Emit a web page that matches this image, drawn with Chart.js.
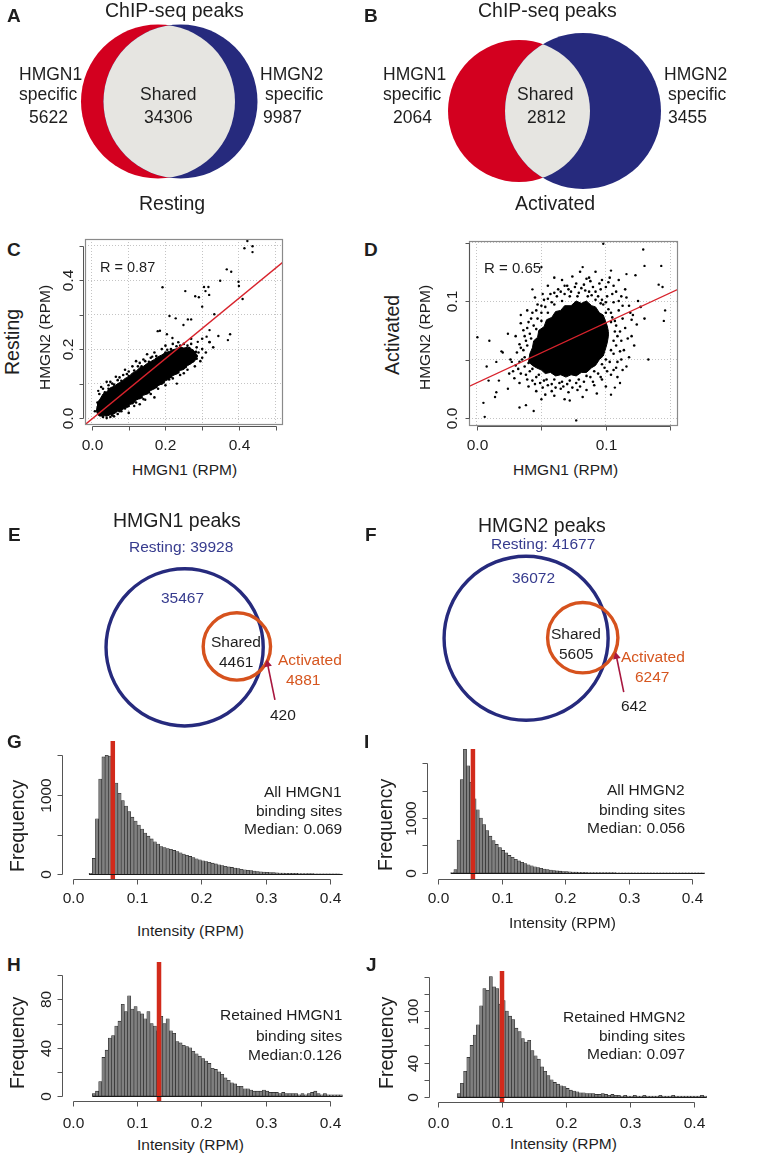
<!DOCTYPE html>
<html>
<head>
<meta charset="utf-8">
<script src="https://cdn.jsdelivr.net/npm/chart.js@4.4.1/dist/chart.umd.min.js"></script>
<style>
  body { margin: 0; background: #fff; }
  #page { position: relative; width: 764px; height: 1154px; overflow: hidden; font-family: 'Liberation Sans', Arial, sans-serif; color: #1e1e1e; }
  #page canvas { position: absolute; }
  .t { position: absolute; white-space: nowrap; line-height: 1; }
</style>
</head>
<body>
<div id="page"></div>
<script>
// ---------- data ----------
// A / B: overlap of HMGN1 and HMGN2 ChIP-seq peaks
const overlapParts = ['HMGN1 specific', 'Shared', 'HMGN2 specific'];
const restingOverlap = [5622, 34306, 9987];
const activatedOverlap = [2064, 2812, 3455];

// C / D: correlation of peak intensities
const corrR = [0.87, 0.65];
// dense core of the resting cloud (lower / upper edge) and single dots
const cCoreLow = [[0.012,0.02],[0.016,0.01],[0.02,0.006],[0.03,0.008],[0.04,0.005],[0.05,0.01],[0.06,0.012],[0.07,0.02],[0.08,0.022],[0.09,0.03],[0.1,0.038],[0.11,0.042],[0.12,0.052],[0.13,0.057],[0.14,0.066],[0.15,0.07],[0.16,0.08],[0.17,0.085],[0.18,0.094],[0.19,0.099],[0.2,0.108],[0.21,0.113],[0.22,0.123],[0.23,0.128],[0.24,0.138],[0.25,0.141],[0.26,0.152],[0.27,0.158],[0.28,0.166],[0.288,0.18]];
const cCoreHigh = [[0.012,0.02],[0.014,0.035],[0.015,0.045],[0.022,0.055],[0.03,0.07],[0.04,0.076],[0.05,0.088],[0.06,0.092],[0.07,0.1],[0.08,0.105],[0.09,0.115],[0.1,0.12],[0.11,0.131],[0.12,0.136],[0.13,0.146],[0.14,0.15],[0.15,0.158],[0.16,0.164],[0.17,0.17],[0.18,0.178],[0.19,0.183],[0.2,0.19],[0.21,0.193],[0.22,0.198],[0.23,0.201],[0.24,0.206],[0.25,0.203],[0.26,0.205],[0.275,0.198],[0.288,0.18]];
const cDots = [[0.02,0.07],[0.03,0.085],[0.045,0.095],[0.05,0.105],[0.07,0.11],[0.085,0.125],[0.1,0.135],[0.11,0.15],[0.13,0.16],[0.14,0.17],[0.16,0.175],[0.17,0.19],[0.19,0.2],[0.2,0.21],[0.22,0.215],[0.235,0.22],[0.25,0.215],[0.27,0.215],[0.285,0.205],[0.29,0.19],[0.3,0.2],[0.31,0.19],[0.3,0.175],[0.295,0.165],[0.28,0.15],[0.26,0.14],[0.24,0.125],[0.22,0.115],[0.2,0.095],[0.18,0.085],[0.16,0.07],[0.14,0.055],[0.12,0.045],[0.1,0.035],[0.08,0.02],[0.06,0.005],[0.04,0.0],[0.1,0.015],[0.13,0.04],[0.17,0.06],[0.25,0.13],[0.3,0.23],[0.32,0.22],[0.33,0.205],[0.27,0.23],[0.15,0.185],[0.12,0.165],[0.09,0.14],[0.065,0.12],[0.04,0.105],[0.025,0.09],[0.015,0.045],[0.008,0.02],
  [0.055,0.1],[0.075,0.118],[0.095,0.128],[0.125,0.15],[0.145,0.165],[0.175,0.18],[0.205,0.198],[0.23,0.208],[0.26,0.21],[0.28,0.19],[0.275,0.165],[0.255,0.148],[0.23,0.13],[0.21,0.112],[0.19,0.1],[0.17,0.088],[0.15,0.072],[0.13,0.058],[0.11,0.043],[0.09,0.028],[0.07,0.012],[0.05,0.003],[0.035,0.015],[0.025,0.008],
  [0.018,0.03],[0.022,0.05],[0.035,0.075],[0.045,0.085],[0.06,0.097],[0.08,0.108],[0.1,0.122],[0.115,0.138],[0.135,0.15],[0.155,0.163],[0.175,0.172],[0.2,0.19],[0.215,0.2],[0.24,0.21],[0.265,0.203],[0.283,0.192],[0.285,0.172],[0.265,0.158],[0.25,0.145],[0.235,0.132],[0.215,0.12],[0.195,0.103],[0.175,0.09],[0.155,0.075],[0.135,0.06],[0.115,0.048],[0.095,0.033],[0.075,0.02],[0.055,0.008],[0.03,0.003]];
const cOutliers = [[0.423,0.513],[0.415,0.492],[0.437,0.498],[0.437,0.481],[0.367,0.431],[0.379,0.424],[0.349,0.398],[0.399,0.395],[0.4,0.383],[0.41,0.345],[0.192,0.379],[0.254,0.368],[0.305,0.38],[0.317,0.38],[0.309,0.368],[0.319,0.357],[0.281,0.353],[0.291,0.35],[0.3,0.323],[0.333,0.301],[0.211,0.296],[0.261,0.286],[0.27,0.286],[0.228,0.289],[0.249,0.27],[0.185,0.253],[0.179,0.252],[0.32,0.255],[0.376,0.243],[0.37,0.226],[0.344,0.238],[0.312,0.236],[0.288,0.221],[0.32,0.221],[0.231,0.1],[0.204,0.243],[0.219,0.232],[0.164,0.178],[0.017,0.079],[0.115,0.035],[0.145,0.053]];
const cFit = [[-0.02,-0.02],[0.52,0.452]];

const dCoreLow = [[0.04,0.048],[0.043,0.045],[0.046,0.043],[0.05,0.041],[0.053,0.038],[0.057,0.039],[0.061,0.036],[0.065,0.037],[0.069,0.035],[0.073,0.037],[0.077,0.036],[0.081,0.039],[0.085,0.039],[0.089,0.043],[0.092,0.045],[0.095,0.05],[0.098,0.053],[0.1,0.06],[0.101,0.064],[0.102,0.07],[0.102,0.074]];
const dCoreHigh = [[0.04,0.048],[0.041,0.055],[0.043,0.06],[0.044,0.066],[0.047,0.069],[0.048,0.075],[0.052,0.078],[0.054,0.084],[0.058,0.086],[0.061,0.091],[0.065,0.092],[0.068,0.096],[0.073,0.096],[0.077,0.1],[0.081,0.098],[0.085,0.1],[0.089,0.096],[0.092,0.095],[0.095,0.09],[0.098,0.088],[0.1,0.082],[0.101,0.079],[0.102,0.074]];
const dDots = [[0.035,0.05],[0.036,0.058],[0.038,0.066],[0.041,0.072],[0.044,0.079],[0.047,0.085],[0.05,0.09],[0.053,0.095],[0.058,0.099],[0.062,0.104],[0.068,0.106],[0.073,0.108],[0.079,0.107],[0.084,0.109],[0.089,0.105],[0.094,0.104],[0.098,0.097],[0.102,0.093],[0.105,0.086],[0.108,0.079],[0.109,0.07],[0.108,0.062],[0.106,0.055],[0.103,0.048],[0.099,0.043],[0.094,0.038],[0.088,0.035],[0.083,0.031],[0.077,0.03],[0.07,0.029],[0.064,0.03],[0.058,0.029],[0.052,0.032],[0.046,0.035],[0.041,0.04],[0.037,0.044],
  [0.03,0.045],[0.031,0.056],[0.033,0.063],[0.036,0.075],[0.04,0.082],[0.043,0.09],[0.047,0.097],[0.052,0.101],[0.057,0.106],[0.063,0.11],[0.07,0.113],[0.077,0.115],[0.083,0.114],[0.09,0.112],[0.096,0.11],[0.101,0.104],[0.106,0.099],[0.11,0.092],[0.113,0.085],[0.115,0.077],[0.117,0.068],[0.114,0.058],[0.112,0.05],[0.108,0.043],[0.104,0.037],[0.097,0.033],[0.091,0.028],[0.085,0.024],[0.078,0.024],[0.071,0.022],[0.065,0.025],[0.058,0.023],[0.051,0.026],[0.045,0.029],[0.039,0.033],[0.034,0.038],[0.028,0.04],
  [0.025,0.038],[0.026,0.05],[0.03,0.07],[0.034,0.081],[0.039,0.092],[0.045,0.103],[0.055,0.113],[0.066,0.118],[0.074,0.121],[0.087,0.12],[0.097,0.118],[0.106,0.113],[0.112,0.104],[0.118,0.096],[0.121,0.088],[0.124,0.08],[0.12,0.07],[0.122,0.062],[0.118,0.052],[0.113,0.041],[0.109,0.035],[0.1,0.027],[0.093,0.021],[0.082,0.018],[0.068,0.016],[0.06,0.019],[0.053,0.02],[0.046,0.023],[0.04,0.027],[0.033,0.03],[0.029,0.034],[0.092,0.125],[0.103,0.12],[0.115,0.11],[0.127,0.095],[0.13,0.085],[0.125,0.1],[0.11,0.118],[0.08,0.125],[0.06,0.12],
  [0.037,0.052],[0.039,0.062],[0.042,0.068],[0.046,0.076],[0.05,0.083],[0.055,0.09],[0.06,0.097],[0.066,0.1],[0.072,0.104],[0.078,0.104],[0.086,0.104],[0.092,0.101],[0.096,0.098],[0.1,0.09],[0.104,0.082],[0.107,0.074],[0.106,0.066],[0.104,0.058],[0.1,0.05],[0.097,0.046],[0.091,0.04],[0.085,0.036],[0.079,0.033],[0.072,0.032],[0.066,0.031],[0.06,0.033],[0.054,0.033],[0.048,0.037],[0.043,0.042],[0.04,0.047],
  [0.033,0.048],[0.034,0.06],[0.037,0.07],[0.039,0.077],[0.042,0.085],[0.046,0.092],[0.05,0.096],[0.055,0.102],[0.06,0.107],[0.065,0.108],[0.071,0.11],[0.076,0.112],[0.081,0.111],[0.087,0.108],[0.092,0.108],[0.097,0.101],[0.1,0.099],[0.104,0.09],[0.107,0.083],[0.111,0.074],[0.112,0.066],[0.111,0.057],[0.109,0.048],[0.106,0.041],[0.101,0.04],[0.096,0.035],[0.09,0.031],[0.08,0.027],[0.074,0.026],[0.067,0.027],[0.061,0.026],[0.055,0.028],[0.049,0.03],[0.043,0.032],[0.038,0.037],[0.032,0.042],
  [0.095,0.115],[0.1,0.112],[0.105,0.106],[0.11,0.1],[0.113,0.096],[0.119,0.09],[0.116,0.103],[0.108,0.108],[0.12,0.084],[0.088,0.117],[0.085,0.119],[0.102,0.116]];
const dOutliers = [[0.098,0.149],[0.129,0.144],[0.13,0.13],[0.143,0.13],[0.141,0.114],[0.144,0.112],[0.146,0.092],[0.145,0.083],[0.133,0.05],[0.082,0.129],[0.104,0.126],[0.116,0.123],[0.123,0.122],[0.043,0.11],[0.051,0.106],[0.068,0.113],[0.034,0.088],[0.024,0.072],[0.0003,0.069],[0.0096,0.066],[0.015,0.048],[0.0075,0.044],[0.009,0.032],[0.015,0.022],[0.014,0.018],[0.005,0.013],[0.006,0.001],[0.033,0.009],[0.038,0.011],[0.044,0.006],[0.05,0.016],[0.072,0.015],[0.077,-0.002],[0.104,0.02],[0.107,0.026],[0.111,0.03],[0.116,0.044],[0.027,0.048],[0.02,0.056],[0.019,0.057],[0.017,0.032],[0.024,0.025],[0.05,0.129]];
const dFit = [[-0.0062,0.027],[0.156,0.11]];

const rpmTicksC = [0, 0.1, 0.2, 0.3, 0.4, 0.5];
const rpmLabelsC = ['0.0', '', '0.2', '', '0.4', ''];
const rpmTicksD = [0, 0.05, 0.1, 0.15];
const rpmLabelsD = ['0.0', '', '0.1', ''];

// E / F: resting vs activated peaks
const peakParts = ['Resting', 'Resting only', 'Shared', 'Activated', 'Activated only'];
const hmgn1Peaks = [39928, 35467, 4461, 4881, 420];
const hmgn2Peaks = [41677, 36072, 5605, 6247, 642];

// G / I / H / J: intensity histograms (bin width 0.005 RPM)
const binWidth = 0.005;
const allHmgn1Start = 0.025;
const allHmgn1Counts = [10,200,700,1200,1480,1500,1490,1300,1150,1020,930,860,790,720,670,620,570,520,480,445,410,380,350,
  335,325,315,300,285,270,255,240,225,210,195,182,
  170,160,150,140,130,120,110,100,92,86,78,70,62,56,50,45,40,35,31,28,25,22,20,18,16,14,13,12,11,10,9,8,8,7,7,6,6,5,5,5,4,4,4,3];
const allHmgn2Start = 0.02;
const allHmgn2Counts = [5,60,600,1700,2250,1950,1650,1350,1150,1000,880,770,670,590,520,460,410,365,320,285,250,220,195,170,150,
  130,112,97,84,72,62,53,45,38,32,27,23,20,17,15,13,11,10,9,8,7,7,6,6,5,5,5,4,4,4,4,3,3,3,3,3,3,2,2,2,2,2,2,2,2,2,2,2,2,2,2,2,2,2,2];
const retHmgn1Start = 0.03;
const retHmgn1Counts = [2,4,12,32,38,48,50,58,62,76,70,83,72,74,70,68,64,70,60,58,54,66,60,64,54,52,45,44,42,41,40,37,35,33,31,
  29,27,23,22,20,18,15,13,11,10,8,8,6,6,5,4,4,4,5,4,3,3,3,2,3,2,2,2,2,1,2,1,2,3,4,2,1,2,1,1,1,1,1];
const retHmgn2Start = 0.03;
const retHmgn2Counts = [4,16,30,46,60,72,84,106,126,124,140,128,126,108,112,100,94,90,80,76,68,64,66,54,48,44,35,30,25,20,
  17,15,13,12,10,8,7,6,5,5,4,4,4,3,3,4,3,2,3,2,2,1,2,1,1,2,1,1,2,1,1,1,1,2,1,1,1,2,1,1,1,1,1,1,1,1,2,1];
const medianText = ['Median: 0.069', 'Median: 0.056', 'Median:0.126', 'Median: 0.097'];
const medianLine = [0.062, 0.055, 0.134, 0.100];
const intensityTicks = [0, 0.1, 0.2, 0.3, 0.4];
const intensityLabels = ['0.0', '0.1', '0.2', '0.3', '0.4'];
const freqTicksG = [0, 500, 1000, 1500];
const freqLabelsG = ['0', '', '1000', ''];
const freqTicksI = [0, 500, 1000, 1500, 2000];
const freqLabelsI = ['0', '', '1000', '', ''];
const freqTicksH = [0, 20, 40, 60, 80, 100];
const freqLabelsH = ['0', '', '40', '', '80', ''];
const freqTicksJ = [0, 20, 40, 60, 80, 100, 120, 140];
const freqLabelsJ = ['0', '', '40', '', '', '100', '', ''];

// ---------- helpers ----------
const FONT = "'Liberation Sans', Arial, sans-serif";
const RED = '#d3001f', NAVY = '#262a7d', BLUE_TXT = '#363b8e', ORANGE = '#d6521d', ORANGE_TXT = '#d6561f';
const page = document.getElementById('page');
const pts = arr => arr.map(([x, y]) => ({ x, y }));

// text centred on (x, y); right-aligned ends at x; rotated reads bottom to top
function text(str, x, y, o = {}) {
    const d = document.createElement('div');
    d.className = 't';
    d.textContent = str;
    d.style.fontSize = (o.size || 15.5) + 'px';
    if (o.bold) d.style.fontWeight = 'bold';
    d.style.color = o.color || '#1e1e1e';
    page.appendChild(d);
    const w = d.offsetWidth, h = d.offsetHeight;
    if (o.rotate) {
        d.style.transformOrigin = '0 0';
        d.style.transform = 'rotate(-90deg)';
        d.style.left = Math.round(x - h / 2) + 'px';
        d.style.top = Math.round(y + w / 2) + 'px';
    } else {
        d.style.left = Math.round(o.align === 'right' ? x - w : x - w / 2) + 'px';
        d.style.top = Math.round(y - h / 2) + 'px';
    }
}

function makeCanvas(box) {
    const c = document.createElement('canvas');
    c.width = box[2]; c.height = box[3];
    c.style.left = box[0] + 'px'; c.style.top = box[1] + 'px';
    c.style.width = box[2] + 'px'; c.style.height = box[3] + 'px';
    page.appendChild(c);
    return c;
}

// padding so the chart area lands on area = [left, top, right, bottom] (page px)
const padFor = (box, area) => ({
    left: area[0] - box[0], top: area[1] - box[1],
    right: box[0] + box[2] - area[2], bottom: box[1] + box[3] - area[3]
});
const flat = s => { if (s.isHorizontal()) s.height = 0; else s.width = 0; };

// R-style axes: detached axis lines, outward ticks, rotated y labels
function rAxes(o) {
    return {
        id: 'rAxes',
        afterDraw(chart) {
            const { ctx, chartArea: a } = chart;
            ctx.save();
            if (o.box) {
                ctx.strokeStyle = o.box; ctx.lineWidth = 1.2;
                ctx.strokeRect(a.left + 0.5, a.top + 0.5, a.right - a.left - 1, a.bottom - a.top - 1);
            }
            if (o.baseline) {
                const y0 = Math.round(chart.scales.y.getPixelForValue(0)) + 0.5;
                ctx.strokeStyle = '#1a1a1a'; ctx.lineWidth = 1;
                ctx.beginPath();
                ctx.moveTo(chart.scales.x.getPixelForValue(o.baseline[0]), y0);
                ctx.lineTo(chart.scales.x.getPixelForValue(o.baseline[1]), y0);
                ctx.stroke();
            }
            ctx.strokeStyle = o.color || '#555';
            ctx.fillStyle = '#1e1e1e';
            ctx.lineWidth = 1;
            ctx.font = (o.size || 15.5) + 'px ' + FONT;
            ctx.textAlign = 'center';
            ctx.textBaseline = 'middle';
            ['x', 'y'].forEach(k => {
                const s = o[k];
                if (!s) return;
                const sc = chart.scales[k];
                const ps = s.ticks.map(v => Math.round(sc.getPixelForValue(v)) + 0.5);
                ctx.beginPath();
                if (k === 'x') {
                    const y0 = Math.round(a.bottom + s.pos) + 0.5;
                    ctx.moveTo(ps[0], y0); ctx.lineTo(ps[ps.length - 1], y0);
                    ps.forEach(p => { ctx.moveTo(p, y0); ctx.lineTo(p, y0 + s.len); });
                    ctx.stroke();
                    s.labels.forEach((t, i) => { if (t) ctx.fillText(t, ps[i], y0 + s.gap); });
                } else {
                    const x0 = Math.round(a.left - s.pos) + 0.5;
                    ctx.moveTo(x0, ps[0]); ctx.lineTo(x0, ps[ps.length - 1]);
                    ps.forEach(p => { ctx.moveTo(x0, p); ctx.lineTo(x0 - s.len, p); });
                    ctx.stroke();
                    s.labels.forEach((t, i) => {
                        if (!t) return;
                        ctx.save();
                        ctx.translate(x0 - s.gap, ps[i]);
                        ctx.rotate(-Math.PI / 2);
                        ctx.fillText(t, 0, 0);
                        ctx.restore();
                    });
                }
            });
            ctx.restore();
        }
    };
}

// circles of the Venn panels, placed through the chart scales (page px units)
function vennShapes(circles, lens) {
    return {
        id: 'venn',
        beforeDatasetsDraw(chart) {
            const { ctx, scales: { x, y } } = chart;
            const geo = c => ({
                px: x.getPixelForValue(c.c[0]), py: y.getPixelForValue(c.c[1]),
                pr: x.getPixelForValue(c.c[0] + c.r) - x.getPixelForValue(c.c[0])
            });
            const path = g => { ctx.beginPath(); ctx.arc(g.px, g.py, g.pr, 0, Math.PI * 2); };
            ctx.save();
            circles.forEach(c => {
                const g = geo(c);
                path(g);
                if (c.fill) { ctx.fillStyle = c.fill; ctx.fill(); }
                if (c.stroke) { ctx.strokeStyle = c.stroke; ctx.lineWidth = c.lw; ctx.stroke(); }
            });
            if (lens) {
                const [g1, g2] = lens.pair.map(i => geo(circles[i]));
                ctx.save();
                path(g1); ctx.clip();
                path(g2); ctx.fillStyle = lens.fill; ctx.fill();
                ctx.restore();
            }
            ctx.beginPath();
            ctx.restore();
        }
    };
}

const base = { responsive: false, animation: false, devicePixelRatio: 1, events: [] };
const quiet = { legend: { display: false }, tooltip: { enabled: false } };

function vennChart(box, circles, lens, arrow) {
    const datasets = [];
    if (arrow) {
        datasets.push({
            data: pts(arrow), showLine: true, fill: false, borderColor: '#a8173f', borderWidth: 1.6,
            pointRadius: [0, 4.5], pointStyle: 'triangle', pointRotation: -11,
            pointBackgroundColor: '#a8173f', pointBorderWidth: 0
        });
    }
    new Chart(makeCanvas(box), {
        type: 'scatter',
        data: { datasets },
        options: {
            ...base,
            layout: { padding: 0 },
            plugins: quiet,
            scales: {
                x: { type: 'linear', display: false, min: box[0], max: box[0] + box[2] },
                y: { type: 'linear', display: false, min: box[1], max: box[1] + box[3], reverse: true }
            }
        },
        plugins: [vennShapes(circles, lens)]
    });
}

function scatterChart(box, area, xr, yr, step, core, dots, extra, fit, axes) {
    const gridScale = r => ({
        type: 'linear', min: r[0], max: r[1],
        ticks: { display: false, stepSize: step, includeBounds: false },
        grid: { color: '#c4c4c4', lineWidth: 1, drawTicks: false },
        border: { display: false, dash: [1, 2] },
        afterFit: flat
    });
    new Chart(makeCanvas(box), {
        type: 'scatter',
        data: {
            datasets: [
                { type: 'line', data: pts(core[0]), borderColor: '#000', borderWidth: 1, pointRadius: 0, fill: false, order: 3 },
                { type: 'line', data: pts(core[1]), borderColor: '#000', borderWidth: 1, pointRadius: 0, fill: '-1', backgroundColor: '#000', order: 3 },
                { data: pts(dots), pointRadius: 1.3, pointBackgroundColor: '#000', pointBorderWidth: 0, order: 2 },
                { data: pts(extra), pointRadius: 1.2, pointBackgroundColor: '#000', pointBorderWidth: 0, order: 2 },
                { type: 'line', data: pts(fit), borderColor: '#d8232c', borderWidth: 1.4, pointRadius: 0, fill: false, order: 1 }
            ]
        },
        options: {
            ...base,
            layout: { padding: padFor(box, area) },
            plugins: quiet,
            scales: { x: gridScale(xr), y: gridScale(yr) }
        },
        plugins: [rAxes(axes)]
    });
}

function histChart(box, area, yr, start, counts, median, axes) {
    const bars = counts.map((c, i) => ({ x: +(start + (i + 0.5) * binWidth).toFixed(4), y: c }));
    const hidden = (min, max) => ({
        type: 'linear', min, max, offset: false,
        ticks: { display: false }, grid: { display: false, drawTicks: false },
        border: { display: false }, afterFit: flat
    });
    new Chart(makeCanvas(box), {
        type: 'bar',
        data: {
            datasets: [
                { type: 'line', data: [{ x: median, y: yr[0] }, { x: median, y: yr[1] }], borderColor: '#d22a1b', borderWidth: 4.5, pointRadius: 0, fill: false, order: 1 },
                { data: bars, backgroundColor: '#808080', borderColor: '#222', borderWidth: 0.6, borderSkipped: false, barPercentage: 1, categoryPercentage: 1, order: 2 }
            ]
        },
        options: {
            ...base,
            layout: { padding: padFor(box, area) },
            plugins: quiet,
            scales: { x: hidden(0, 0.42), y: hidden(yr[0], yr[1]) }
        },
        plugins: [rAxes({ ...axes, baseline: [start, start + counts.length * binWidth] })]
    });
}

// ---------- A / B ----------
vennChart([0, 0, 380, 215],
    [{ c: [158, 101.5], r: 77, fill: RED }, { c: [180.5, 101.5], r: 77, fill: NAVY }],
    { pair: [0, 1], fill: '#e6e5e1' });
vennChart([380, 0, 384, 215],
    [{ c: [519, 111], r: 71, fill: RED }, { c: [583, 111], r: 78, fill: NAVY }],
    { pair: [0, 1], fill: '#e6e5e1' });

text('A', 14, 15, { size: 19, bold: true });
text('B', 371, 15, { size: 19, bold: true });
text('ChIP-seq peaks', 174, 11, { size: 19.5 });
text('ChIP-seq peaks', 547, 11, { size: 19.5 });
[[restingOverlap, [[50, 48, 48], [168, 168], [291, 294, 282]], 'Resting', 172],
 [activatedOverlap, [[414, 412, 412], [545, 546], [695, 697, 687]], 'Activated', 555]].forEach(([vals, xs, name, nx]) => {
    const [n1, sh, n2] = overlapParts;
    text(n1.split(' ')[0], xs[0][0], 75, { size: 17.5 });
    text(n1.split(' ')[1], xs[0][1], 95, { size: 17.5 });
    text(String(vals[0]), xs[0][2], 118, { size: 17.5 });
    text(sh, xs[1][0], 95, { size: 17.5 });
    text(String(vals[1]), xs[1][1], 118, { size: 17.5 });
    text(n2.split(' ')[0], xs[2][0], 75, { size: 17.5 });
    text(n2.split(' ')[1], xs[2][1], 95, { size: 17.5 });
    text(String(vals[2]), xs[2][2], 118, { size: 17.5 });
    text(name, nx, 204, { size: 19.5 });
});

// ---------- C / D ----------
scatterChart([40, 230, 320, 230], [85, 239, 283, 425], [-0.019, 0.52], [-0.02, 0.519], 0.1,
    [cCoreLow, cCoreHigh], cDots, cOutliers, cFit,
    { box: '#8a8a8a', color: '#555', size: 15.5,
      x: { ticks: rpmTicksC, labels: rpmLabelsC, pos: 1, len: 4, gap: 19 },
      y: { ticks: rpmTicksC, labels: rpmLabelsC, pos: 2, len: 4, gap: 15 } });
scatterChart([420, 230, 320, 230], [469, 241, 678, 426], [-0.0062, 0.156], [-0.0068, 0.1513], 0.05,
    [dCoreLow, dCoreHigh], dDots, dOutliers, dFit,
    { box: '#8a8a8a', color: '#555', size: 15.5,
      x: { ticks: rpmTicksD, labels: rpmLabelsD, pos: 0, len: 4, gap: 19 },
      y: { ticks: rpmTicksD, labels: rpmLabelsD, pos: 0, len: 4, gap: 17 } });

text('C', 14, 249, { size: 19, bold: true });
text('D', 371, 249, { size: 19, bold: true });
text('Resting', 13, 342, { size: 19.5, rotate: true });
text('HMGN2 (RPM)', 45, 337, { size: 15.5, rotate: true });
text('HMGN1 (RPM)', 184, 470, { size: 15.5 });
text('R = ' + corrR[0].toFixed(2), 127, 267, { size: 14.5 });
text('Activated', 393, 335, { size: 19.5, rotate: true });
text('HMGN2 (RPM)', 425, 337, { size: 15.5, rotate: true });
text('HMGN1 (RPM)', 565, 470, { size: 15.5 });
text('R = ' + corrR[1].toFixed(2), 512, 267, { size: 15 });

// ---------- E / F ----------
vennChart([0, 495, 380, 245],
    [{ c: [184.5, 648.5], r: 80.5, stroke: NAVY, lw: 3.4 }, { c: [238, 647.5], r: 34.5, stroke: ORANGE, lw: 3.4 }],
    null, [[277, 703], [269.5, 666]]);
vennChart([380, 495, 384, 245],
    [{ c: [525, 639], r: 84, stroke: NAVY, lw: 3.4 }, { c: [583, 638.5], r: 36, stroke: ORANGE, lw: 3.4 }],
    null, [[625, 695], [617.5, 658]]);

text('E', 14, 534, { size: 19, bold: true });
text('F', 371, 534, { size: 19, bold: true });
[[hmgn1Peaks, 'HMGN1 peaks', [177, 521], [181, 547], [182, 598], [236, 642, 662], [310, 660, 303, 680], [283, 715]],
 [hmgn2Peaks, 'HMGN2 peaks', [542, 526], [543, 544], [533, 578], [576, 634, 654], [653, 657, 652, 677], [634, 706]]].forEach(
    ([v, title, tp, rp, ro, sp, ap, aop]) => {
        text(title, tp[0], tp[1], { size: 19.5 });
        text(peakParts[0] + ': ' + v[0], rp[0], rp[1], { size: 15.5, color: BLUE_TXT });
        text(String(v[1]), ro[0], ro[1], { size: 15.5, color: BLUE_TXT });
        text(peakParts[2], sp[0], sp[1], { size: 15.5 });
        text(String(v[2]), sp[0], sp[2], { size: 15.5 });
        text(peakParts[3], ap[0], ap[1], { size: 15.5, color: ORANGE_TXT });
        text(String(v[3]), ap[2], ap[3], { size: 15.5, color: ORANGE_TXT });
        text(String(v[4]), aop[0], aop[1], { size: 15.5 });
    });

// ---------- G / I / H / J ----------
const xAxisHist = gap => ({ ticks: intensityTicks, labels: intensityLabels, pos: 0, len: 5, gap });
histChart([25, 735, 340, 180], [73, 741, 342.6, 879], [-60, 1680], allHmgn1Start, allHmgn1Counts, medianLine[0],
    { color: '#555', size: 15.5, x: xAxisHist(19), y: { ticks: freqTicksG, labels: freqLabelsG, pos: 11, len: 5, gap: 16 } });
histChart([390, 735, 340, 180], [438, 749, 704.7, 879], [-110, 2255], allHmgn2Start, allHmgn2Counts, medianLine[1],
    { color: '#555', size: 15.5, x: xAxisHist(19), y: { ticks: freqTicksI, labels: freqLabelsI, pos: 11, len: 5, gap: 16 } });
histChart([25, 955, 340, 180], [73, 962, 342.6, 1101], [-4.14, 111], retHmgn1Start, retHmgn1Counts, medianLine[2],
    { color: '#555', size: 15.5, x: xAxisHist(22), y: { ticks: freqTicksH, labels: freqLabelsH, pos: 11, len: 5, gap: 16 } });
histChart([390, 955, 340, 180], [438, 971, 706.8, 1102], [-5.8, 146.5], retHmgn2Start, retHmgn2Counts, medianLine[3],
    { color: '#555', size: 15.5, x: xAxisHist(21), y: { ticks: freqTicksJ, labels: freqLabelsJ, pos: 9, len: 5, gap: 16 } });

text('G', 14, 741, { size: 19, bold: true });
text('I', 366, 741, { size: 19, bold: true });
text('H', 14, 964, { size: 19, bold: true });
text('J', 371, 964, { size: 19, bold: true });
[[18, 826], [386, 825], [18, 1043], [387, 1043]].forEach(([x, y]) => text('Frequency', x, y, { size: 19.5, rotate: true }));
[[190, 931], [562, 923], [190, 1145], [563, 1144]].forEach(([x, y]) => text('Intensity (RPM)', x, y, { size: 15.5 }));
[[['All HMGN1', 'binding sites', medianText[0]], 342, [792, 811, 829]],
 [['All HMGN2', 'binding sites', medianText[1]], 685, [790, 810, 828]],
 [['Retained HMGN1', 'binding sites', medianText[2]], 342, [1015, 1036, 1055]],
 [['Retained HMGN2', 'binding sites', medianText[3]], 685, [1017, 1036, 1054]]].forEach(([lines, x, ys]) => {
    lines.forEach((l, i) => text(l, x, ys[i], { size: 15.5, align: 'right' }));
});
</script>
</body>
</html>
